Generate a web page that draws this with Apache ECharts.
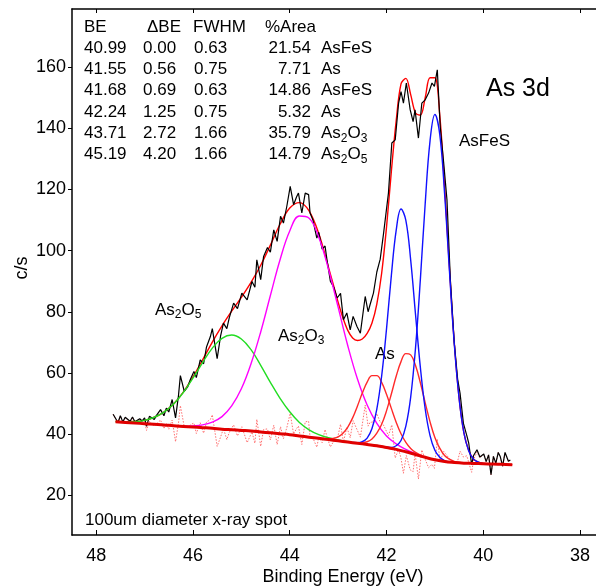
<!DOCTYPE html>
<html><head><meta charset="utf-8">
<script src="https://cdn.jsdelivr.net/npm/echarts@6/dist/echarts.min.js"></script>
<style>html,body{margin:0;padding:0;background:#fff}#c{width:596px;height:588px}</style>
</head><body><div id="c"></div>
<script>
const FONT = '"Liberation Sans", Arial, Helvetica, sans-serif';

// ---- axis ticks ----
const xTicks = [48, 46, 44, 42, 40, 38];
const yTicks = [20, 40, 60, 80, 100, 120, 140, 160];

// ---- fit table ----
const tableHead = ['BE', '\u0394BE', 'FWHM', '%Area'];
const tableBE   = ['40.99', '41.55', '41.68', '42.24', '43.71', '45.19'];
const tableDBE  = ['0.00', '0.56', '0.69', '1.25', '2.72', '4.20'];
const tableFWHM = ['0.63', '0.75', '0.63', '0.75', '1.66', '1.66'];
const tableArea = ['21.54', '7.71', '14.86', '5.32', '35.79', '14.79'];
const tableName = ['AsFeS', 'As', 'AsFeS', 'As', '{n|As}{s|2}{n|O}{s|3}', '{n|As}{s|2}{n|O}{s|5}'];

// ---- raw spectrum (black) ----
const rawE = [47.65,47.55,47.5,47.45,47.4,47.3,47.25,47.2,47.1,47.05,
  47.0,46.96,46.9,46.8,46.75,46.67,46.6,46.55,46.5,46.43,
  46.36,46.3,46.26,46.18,46.11,46.05,45.98,45.93,45.85,45.78,
  45.72,45.64,45.6,45.5,45.43,45.37,45.3,45.25,45.16,45.08,
  44.99,44.88,44.78,44.72,44.68,44.6,44.54,44.46,44.4,44.33,
  44.26,44.19,44.13,44.06,43.99,43.92,43.86,43.82,43.75,43.68,
  43.61,43.58,43.52,43.44,43.4,43.33,43.27,43.23,43.16,43.09,
  43.02,42.95,42.89,42.82,42.75,42.69,42.61,42.54,42.44,42.38,
  42.34,42.27,42.2,42.13,42.06,41.96,41.89,41.82,41.75,41.7,
  41.65,41.59,41.51,41.45,41.41,41.34,41.27,41.2,41.13,41.06,
  41.01,40.95,40.89,40.82,40.75,40.68,40.6,40.53,40.48,40.41,
  40.34,40.3,40.24,40.2,40.13,40.07,39.99,39.94,39.89,39.84,
  39.79,39.74,39.69,39.65,39.6,39.55,39.48,39.44];
const rawV = [46.5,43.8,46.0,44.0,45.5,44.2,45.6,44.0,45.0,44.3,
  45.3,42.5,45.8,44.8,46.2,48.0,46.0,48.5,47.2,51.3,
  45.3,52.5,59.1,54.0,55.4,58.0,60.5,58.5,64.3,63.0,
  68.5,71.9,74.5,64.7,72.0,76.3,74.5,78.0,82.8,81.0,
  86.1,83.9,89.9,88.0,97.0,90.5,98.1,101.0,99.5,106.8,
  103.0,111.2,109.0,114.5,121.0,115.0,117.5,118.8,112.3,118.8,
  118.3,112.3,110.0,104.1,106.0,100.5,101.5,97.0,90.0,88.0,
  84.5,86.0,77.4,79.6,74.1,78.5,75.2,73.0,85.0,80.0,
  82.3,86.1,93.0,97.2,105.7,118.8,135.2,136.2,148.2,152.0,
  148.2,154.8,146.0,142.2,146.0,136.8,148.2,149.3,151.5,154.8,
  153.7,159.1,140.6,129.0,116.6,90.5,70.0,58.0,53.4,43.5,
  39.5,37.0,30.0,33.0,34.9,32.5,33.5,31.0,33.2,26.7,
  32.7,30.5,34.0,32.7,29.5,34.0,31.1,31.5];
// residual (dotted light red), same energies as raw
const resV = [46.4,43.7,45.9,43.9,45.3,43.9,45.2,43.5,44.2,43.4,
  44.2,41.2,44.2,42.5,43.4,44.6,41.8,43.6,41.6,44.6,
  37.5,43.5,49.3,42.4,42.1,43.1,43.6,40.2,43.7,40.3,
  43.9,44.8,46.3,36.0,39.0,41.8,38.2,40.5,43.0,39.4,
  42.4,37.2,40.7,37.0,44.8,36.0,41.5,41.7,38.1,42.9,
  36.6,42.4,38.5,42.1,46.8,40.0,41.8,42.6,36.6,44.0,
  44.2,38.9,38.7,35.7,39.0,37.2,41.5,39.1,35.8,37.7,
  38.1,43.2,37.4,42.3,38.8,44.4,41.5,39.0,49.5,42.6,
  43.8,44.0,46.7,43.9,42.9,39.5,43.0,32.2,35.0,32.1,
  27.2,33.0,28.3,27.7,33.7,25.3,34.8,31.7,29.0,30.1,
  28.8,38.3,31.0,34.4,33.0,31.5,30.6,31.2,34.4,32.5,
  32.9,32.9,27.5,31.6,34.2,32.2,33.5,31.0,33.2,26.7,
  32.7,30.5,34.0,32.7,29.5,34.0,31.1,31.5];

// ---- background (thick red) ----
const bgE = [47.6,47.4,47.2,47.0,46.8,46.6,46.4,46.2,46.0,45.8,45.6,45.4,45.2,45.0,44.8,44.6,44.4,44.2,44.0,43.8,43.6,43.4,43.2,43.0,42.8,42.6,42.4,42.2,42.0,41.8,41.6,41.4,41.2,41.0,40.8,40.6,40.4,40.2,40.0,39.8,39.6,39.4];
const bgV = [44.0,43.8,43.6,43.4,43.2,43.0,42.7,42.5,42.3,42.1,41.9,41.6,41.4,41.2,41.0,40.7,40.4,40.1,39.8,39.4,39.0,38.6,38.2,37.8,37.4,37.0,36.6,36.2,35.6,35.0,34.2,33.3,32.4,31.6,31.0,30.7,30.5,30.4,30.3,30.2,30.1,30.0];

// ---- envelope (red) ----
const envE = [47.6,47.4,47.2,47.0,46.8,46.6,46.4,46.2,46.0,45.8,45.6,45.4,45.2,45.0,44.8,44.6,44.4,44.2,44.0,43.8,43.6,43.4,43.2,
  43.1,43.0,42.9,42.8,42.7,42.6,42.5,42.4,42.3,42.2,42.1,42.0,41.9,41.8,41.7,41.6,41.5,41.4,41.3,41.2,41.1,41.0,40.9,40.8,40.7,40.6,40.5,40.4,40.3,40.2,40.1,40.0,
  39.8,39.6,39.4];
const envV = [44.1,44.0,44.1,44.5,45.5,47.2,49.8,53.7,58.7,64.3,70.1,75.4,80.2,84.7,89.6,95.2,101.8,108.6,113.9,115.7,113.0,105.6,94.6,
  88.9,83.1,78.0,73.9,71.4,70.6,71.1,72.9,76.3,82.5,92.6,107.6,125.8,142.4,154.5,156.3,151.0,145.0,144.3,150.0,156.5,156.5,144.5,121.2,94.7,70.1,51.9,40.4,34.6,31.8,30.8,30.4,
  30.2,30.1,30.0];

// ---- components ----
const as2o5E = [47.6,47.4,47.2,47.0,46.8,46.6,46.4,46.2,46.0,45.8,45.6,45.4,45.2,45.0,44.8,44.6,44.4,44.2,44.0,43.8,43.6,43.4,43.2,43.0,42.8,42.6,42.4,42.2,42.0,41.8,41.6,41.4];
const as2o5V = [44.1,44.0,44.1,44.5,45.5,47.2,49.8,53.6,58.3,63.4,68.1,71.3,72.4,71.1,67.6,62.5,56.9,51.7,47.3,43.8,41.4,39.8,38.8,38.1,37.5,37.0,36.65,36.25,35.65,35.05,34.25,33.35];
const as2o3E = [46.6,46.4,46.2,46.0,45.8,45.6,45.4,45.2,45.0,44.8,44.6,44.4,44.2,44.0,43.8,43.6,43.4,43.2,43.0,42.8,42.6,42.4,42.2,42.0,41.8,41.6,41.4,41.2];
const as2o3V = [43.0,42.75,42.6,42.7,43.0,43.9,45.7,49.2,54.8,63.0,73.4,85.3,97.0,106.4,111.3,110.6,104.4,94.0,81.5,68.9,58.0,49.5,43.5,39.4,36.8,35.0,33.6,32.5];
const asfes1E = [42.0,41.9,41.8,41.7,41.6,41.5,41.4,41.3,41.2,41.1,41.0,40.9,40.8,40.7,40.6,40.5,40.4,40.3,40.2,40.1,40.0];
const asfes1V = [35.7,35.65,36.2,37.9,42.6,52.1,68.2,90.6,115.4,135.9,144.5,138.1,118.8,93.6,69.7,51.7,40.4,34.5,31.8,30.8,30.3];
const asfes2E = [42.7,42.6,42.5,42.4,42.3,42.2,42.1,42.0,41.9,41.8,41.7,41.6,41.5,41.4,41.3,41.2,41.1,41.0,40.9,40.8,40.7];
const asfes2V = [37.25,37.2,37.5,38.7,41.8,48.2,59.0,74.3,91.8,106.6,113.6,109.9,96.9,79.1,61.8,48.2,39.5,34.7,32.4,31.35,30.9];
const as1E = [42.6,42.5,42.4,42.3,42.2,42.1,42.0,41.9,41.8,41.7,41.6,41.5,41.4,41.3,41.2,41.1,41.0,40.9,40.8,40.7,40.6,40.5,40.4];
const as1V = [37.15,37.2,37.5,38.4,40.3,43.2,47.6,53.1,58.9,63.7,66.3,65.9,62.4,56.8,50.2,44.0,38.9,35.4,33.0,31.8,31.1,30.7,30.5];
const as2E = [43.3,43.2,43.1,43.0,42.9,42.8,42.7,42.6,42.5,42.4,42.3,42.2,42.1,42.0,41.9,41.8,41.7,41.6,41.5,41.4,41.3,41.2];
const as2V = [38.5,38.45,38.6,39.1,40.3,42.3,45.3,49.2,53.4,57.0,59.1,59.1,56.9,53.0,48.4,43.9,40.1,37.3,35.3,34.0,33.15,32.5];

function pairs(e, v) { return e.map((x, i) => [x, v[i]]); }

function line(name, e, v, color, width, opts) {
  return Object.assign({
    name, type: 'line', data: pairs(e, v), showSymbol: false, symbol: 'none',
    lineStyle: { color, width }, silent: true, animation: false, clip: true
  }, opts || {});
}

const series = [
  line('residual', rawE, resV, '#ff8a8a', 1, { lineStyle: { color: '#ff7070', width: 1, type: [1.5, 1.5] } }),
  line('envelope', envE, envV, '#ff0000', 1.4, { smooth: 0.35 }),
  line('raw', rawE, rawV, '#000000', 1.2),
  line('As2O5', as2o5E, as2o5V, '#22dd22', 1.4, { smooth: 0.4 }),
  line('As2O3', as2o3E, as2o3V, '#ff00ff', 1.4, { smooth: 0.4 }),
  line('As', as2E, as2V, '#ff2a2a', 1.4, { smooth: 0.4 }),
  line('As ', as1E, as1V, '#ff2a2a', 1.4, { smooth: 0.4 }),
  line('AsFeS2', asfes2E, asfes2V, '#1010ff', 1.4, { smooth: 0.4 }),
  line('AsFeS1', asfes1E, asfes1V, '#1010ff', 1.4, { smooth: 0.4 }),
  line('background', bgE, bgV, '#e00000', 3, { smooth: 0.4 })
];

const axisLineStyle = { color: '#000', width: 1.5 };

// ---- text graphics ----
const graphics = [];
function txt(x, y, text, size, align, extra) {
  const g = {
    type: 'text', x, y, silent: true,
    style: Object.assign({ text, fill: '#000', font: size + 'px ' + FONT, fontSize: size, fontFamily: FONT,
      textAlign: align || 'left', textVerticalAlign: 'middle' }, extra || {})
  };
  graphics.push(g);
  return g;
}
const rich = {
  n: { fontSize: 17, fontFamily: FONT, fill: '#000', lineHeight: 22, verticalAlign: 'middle' },
  s: { fontSize: 12, fontFamily: FONT, fill: '#000', lineHeight: 12, verticalAlign: 'bottom' }
};
const colX = [84, 147, 193, 265];
tableHead.forEach((h, i) => txt(colX[i], 27, h, 17));
const rowY = [48, 69.3, 90.6, 111.9, 133.2, 154.5];
rowY.forEach((y, i) => {
  txt(84, y, tableBE[i], 17);
  txt(143, y, tableDBE[i], 17);
  txt(194, y, tableFWHM[i], 17);
  txt(311, y, tableArea[i], 17, 'right');
  if (tableName[i].indexOf('{') >= 0) txt(321, y, tableName[i], 17, 'left', { rich });
  else txt(321, y, tableName[i], 17);
});
txt(486, 89, 'As 3d', 25);
txt(459, 141, 'AsFeS', 17);
txt(155, 310, '{n|As}{s|2}{n|O}{s|5}', 17, 'left', { rich });
txt(278, 336, '{n|As}{s|2}{n|O}{s|3}', 17, 'left', { rich });
txt(375, 354, 'As', 17);
txt(85, 520, '100um diameter x-ray spot', 17);
txt(343, 577, 'Binding Energy (eV)', 18, 'center');
graphics.push({ type: 'text', x: 22, y: 268, rotation: Math.PI / 2, silent: true,
  style: { text: 'c/s', fill: '#000', font: '18px ' + FONT, textAlign: 'center', textVerticalAlign: 'middle' } });

const chart = echarts.init(document.getElementById('c'), null, { renderer: 'canvas' });
chart.setOption({
  animation: false,
  backgroundColor: '#fff',
  grid: { left: 72, right: 0, top: 9, bottom: 53, containLabel: false, outerBoundsMode: 'none' },
  xAxis: [
    { type: 'value', inverse: true, min: 37.67, max: 48.5, position: 'bottom',
      axisLine: { show: true, onZero: false, lineStyle: axisLineStyle },
      axisTick: { show: true, inside: true, length: 5, customValues: xTicks, lineStyle: { color: '#000', width: 1 } },
      axisLabel: { customValues: xTicks, fontSize: 18, color: '#000', fontFamily: FONT, margin: 12 },
      splitLine: { show: false } },
    { type: 'value', inverse: true, min: 37.67, max: 48.5, position: 'top',
      axisLine: { show: true, onZero: false, lineStyle: axisLineStyle },
      axisTick: { show: true, inside: true, length: 4, customValues: xTicks, lineStyle: { color: '#000', width: 1 } },
      axisLabel: { show: false }, splitLine: { show: false } }
  ],
  yAxis: [
    { type: 'value', min: 7, max: 179,
      axisLine: { show: true, onZero: false, lineStyle: axisLineStyle },
      axisTick: { show: true, inside: false, length: 4, customValues: yTicks, lineStyle: { color: '#000', width: 1 } },
      axisLabel: { customValues: yTicks, fontSize: 18, color: '#000', fontFamily: FONT, margin: 6 },
      splitLine: { show: false } }
  ],
  series: series.map(s => Object.assign(s, { xAxisIndex: 0, yAxisIndex: 0 })),
  graphic: graphics
});
</script>
</body></html>
